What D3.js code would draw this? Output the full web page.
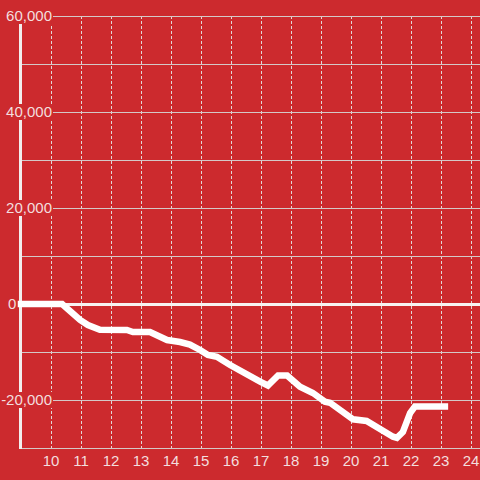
<!DOCTYPE html>
<html><head><meta charset="utf-8">
<script src="https://cdn.jsdelivr.net/npm/d3@7"></script>
<style>html,body{margin:0;padding:0;background:#cc2a2e;}svg{display:block;}</style>
</head><body>
<svg id="c" width="480" height="480"></svg>
<script>
const xVals = [9, 10.37, 10.97, 11.23, 11.63, 12.53, 12.73, 13.3, 13.87, 14.3, 14.63, 14.97, 15.23, 15.53, 15.97, 16.97, 17.23, 17.57, 17.87, 18.3, 18.73, 19.13, 19.3, 20.07, 20.52, 21.4, 21.53, 21.73, 21.97, 22.13, 23.13];
const yVals = [0, 0, -3330, -4375, -5350, -5420, -5830, -5830, -7500, -7920, -8440, -9580, -10625, -10980, -12710, -16190, -16980, -14900, -14900, -17230, -18540, -20350, -20560, -24020, -24375, -27650, -27900, -26670, -22710, -21350, -21350];
const xTicks = [10, 11, 12, 13, 14, 15, 16, 17, 18, 19, 20, 21, 22, 23, 24];
const yGrid = [-30000, -20000, -10000, 0, 10000, 20000, 30000, 40000, 50000, 60000];
const yLabels = [60000, 40000, 20000, 0, -20000];

const svg = d3.select('#c');
const W = 480, H = 480;
svg.append('rect').attr('width', W).attr('height', H).attr('fill', '#cc2a2e');

const x = d3.scaleLinear().domain([9, 24]).range([21, 471]);
const y = d3.scaleLinear().domain([-30000, 60000]).range([448, 16]);
const fmt = d3.format(',');

// vertical dashed grid
svg.append('g').selectAll('line').data(xTicks).join('line')
  .attr('x1', d => x(d) + 0.5).attr('x2', d => x(d) + 0.5)
  .attr('y1', y(60000)).attr('y2', y(-30000))
  .attr('stroke', '#e2d6d6').attr('stroke-width', 1).attr('stroke-dasharray', '3,2');

// horizontal grid
svg.append('g').selectAll('line').data(yGrid.filter(d => d !== 0)).join('line')
  .attr('x1', 20).attr('x2', W)
  .attr('y1', d => y(d) + 0.5).attr('y2', d => y(d) + 0.5)
  .attr('stroke', '#d4c8c8').attr('stroke-width', 1);

// y axis line
svg.append('line').attr('x1', 20.5).attr('x2', 20.5).attr('y1', y(60000)).attr('y2', y(-30000) + 1)
  .attr('stroke', '#f2eeee').attr('stroke-width', 3);

// zero line
svg.append('line').attr('x1', 20).attr('x2', W).attr('y1', y(0) + 0.5).attr('y2', y(0) + 0.5)
  .attr('stroke', '#f7f2f2').attr('stroke-width', 3);

// y labels with background boxes
const yl = svg.append('g');
yLabels.forEach(v => {
  const g = yl.append('g');
  const isZero = v === 0;
  const t = g.append('text')
    .attr('x', isZero ? 8 : 52).attr('y', y(v)).attr('dy', '0.36em')
    .attr('text-anchor', isZero ? 'start' : 'end')
    .attr('font-family', 'Liberation Sans, Arial, sans-serif').attr('font-size', 15)
    .attr('fill', '#f3dede').text(fmt(v).replace('−', '-'));
  if (!isZero) {
    const bb = t.node().getBBox();
    g.insert('rect', 'text').attr('x', Math.min(bb.x - 1, 2)).attr('y', y(v) - 8)
      .attr('width', 53 - Math.min(bb.x - 1, 2)).attr('height', 16).attr('fill', '#cc2a2e');
  }
});

// x labels
svg.append('g').selectAll('text').data(xTicks).join('text')
  .attr('x', d => x(d)).attr('y', 466)
  .attr('text-anchor', 'middle')
  .attr('font-family', 'Liberation Sans, Arial, sans-serif').attr('font-size', 15)
  .attr('fill', '#f3dede').text(d => d);

// data line
const pts = xVals.map((d, i) => [d, yVals[i]]);
svg.append('path').datum(pts)
  .attr('d', d3.line().x(d => x(d[0])).y(d => y(d[1])))
  .attr('fill', 'none').attr('stroke', '#ffffff').attr('stroke-width', 6.5)
  .attr('stroke-linecap', 'square');
</script>
</body></html>
